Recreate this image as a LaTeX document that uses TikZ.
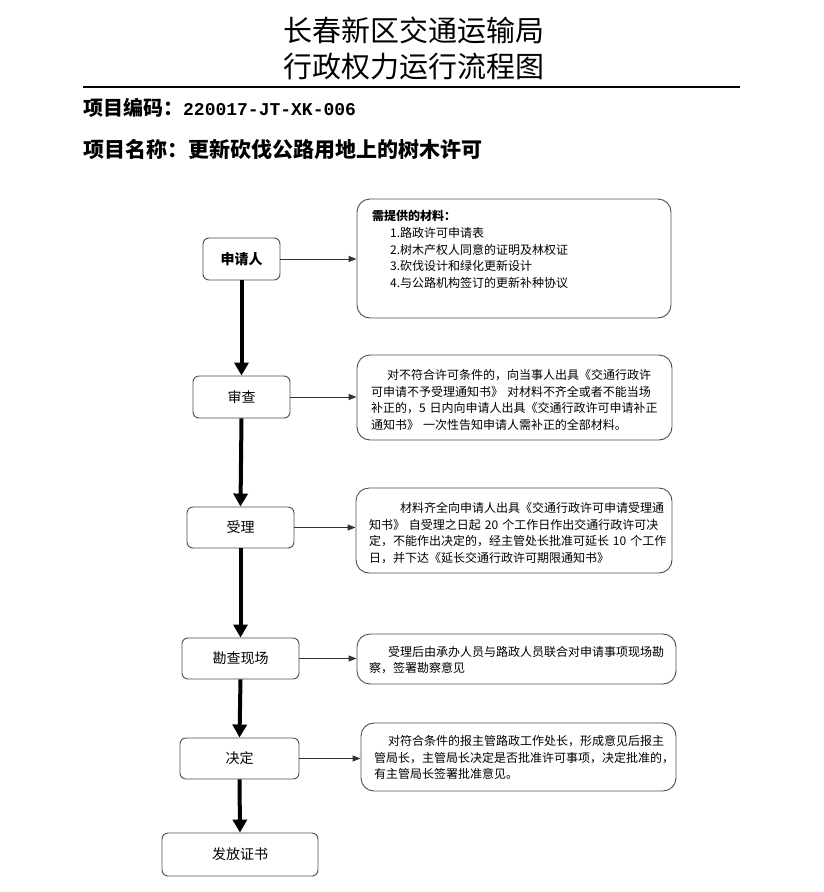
\documentclass[tikz,border=0pt]{standalone}
\usepackage{fontspec}
\setmainfont{Noto Sans CJK SC}
\newfontfamily\codefont{Liberation Mono}
\usetikzlibrary{arrows.meta}

\tikzset{
  stepbox/.style={draw=black!70, line width=0.9pt, rounded corners=6pt,
    font=\fontsize{14}{16}\selectfont},
  notebox/.style={draw=black!70, line width=0.9pt, rounded corners=13pt},
  notetext/.style={align=left, text width=300pt, inner sep=0pt,
    font=\fontsize{12}{16.8}\selectfont},
  flow/.style={line width=4pt, -{Triangle[width=14pt,length=13pt]}},
  link/.style={draw=black!80, line width=1pt, -{Triangle[width=6pt,length=8pt]}}
}

\begin{document}
\begin{tikzpicture}[x=1pt,y=-1pt]

\useasboundingbox (0,0) rectangle (823,892);

% heading
\node[font=\fontsize{29}{31}\selectfont] (title1) at (414,30) {长春新区交通运输局};
\node[font=\fontsize{29}{31}\selectfont] (title2) at (414,67) {行政权力运行流程图};
\coordinate (ruleL) at (83,87);
\coordinate (ruleR) at (740,87);
\draw[line width=1.2pt] (ruleL) -- (ruleR);

\node[anchor=west, inner sep=0pt, font=\bfseries\fontsize{20}{22}\selectfont]
  (code) at (83,108) {项目编码：{\codefont\fontsize{18}{20}\selectfont 220017-JT-XK-006}};
\node[anchor=west, inner sep=0pt, font=\bfseries\fontsize{21}{23}\selectfont]
  (name) at (83,150) {项目名称：更新砍伐公路用地上的树木许可};

% steps
\node[stepbox, minimum width=77pt, minimum height=42pt, font=\bfseries\fontsize{14}{16}\selectfont]
  (apply) at (241.5,259) {申请人};
\node[stepbox, minimum width=97pt, minimum height=42pt] (review) at (241.5,397) {审查};
\node[stepbox, minimum width=107pt, minimum height=41pt] (accept) at (240.5,527.5) {受理};
\node[stepbox, minimum width=117pt, minimum height=41pt] (survey) at (240.5,658.5) {勘查现场};
\node[stepbox, minimum width=119pt, minimum height=41pt] (decide) at (239.5,758.5) {决定};
\node[stepbox, minimum width=156pt, minimum height=43pt] (issue) at (240,854.5) {发放证书};

% notes
\node[notebox, minimum width=314pt, minimum height=119pt] (material) at (514,258.5) {};
\node[notetext, anchor=north west] (materialtext) at (372,210)
  {\textbf{需提供的材料：}\\
   \hspace{18pt}1.路政许可申请表\\
   \hspace{18pt}2.树木产权人同意的证明及林权证\\
   \hspace{18pt}3.砍伐设计和绿化更新设计\\
   \hspace{18pt}4.与公路机构签订的更新补种协议};

\node[notebox, minimum width=315pt, minimum height=85pt] (reviewnote) at (514.5,397.5) {};
\node[notetext] (reviewtext) at (521,400)
  {\hspace{16pt}对不符合许可条件的，向当事人出具《交通行政许\\
   可申请不予受理通知书》~对材料不齐全或者不能当场\\
   补正的，5~日内向申请人出具《交通行政许可申请补正\\
   通知书》~一次性告知申请人需补正的全部材料。};

\node[notebox, minimum width=316pt, minimum height=85pt] (acceptnote) at (514,530.5) {};
\node[notetext] (accepttext) at (519,533)
  {\hspace{31pt}材料齐全向申请人出具《交通行政许可申请受理通\\
   知书》~自受理之日起~20~个工作日作出交通行政许可决\\
   定，不能作出决定的，经主管处长批准可延长~10~个工作\\
   日，并下达《延长交通行政许可期限通知书》};

\node[notebox, minimum width=319pt, minimum height=50pt] (surveynote) at (516.5,659) {};
\node[notetext] (surveytext) at (519,660)
  {\hspace{19pt}受理后由承办人员与路政人员联合对申请事项现场勘\\
   察，签署勘察意见};

\node[notebox, minimum width=315pt, minimum height=68pt] (decidenote) at (518.5,757) {};
\node[notetext] (decidetext) at (524,757.5)
  {\hspace{14pt}对符合条件的报主管路政工作处长，形成意见后报主\\
   管局长，主管局长决定是否批准许可事项，决定批准的，\\
   有主管局长签署批准意见。};

% main flow
\draw[flow] (apply.south) -- (review.north);
\draw[flow] (review.south) -- (accept.north);
\draw[flow] (accept.south) -- (survey.north);
\draw[flow] (survey.south) -- (decide.north);
\draw[flow] (decide.south) -- (issue.north);

% side links
\draw[link] (apply.east) -- (apply.east -| material.west);
\draw[link] (review.east) -- (review.east -| reviewnote.west);
\draw[link] (accept.east) -- (accept.east -| acceptnote.west);
\draw[link] (survey.east) -- (survey.east -| surveynote.west);
\draw[link] (decide.east) -- (decide.east -| decidenote.west);

\end{tikzpicture}
\end{document}
